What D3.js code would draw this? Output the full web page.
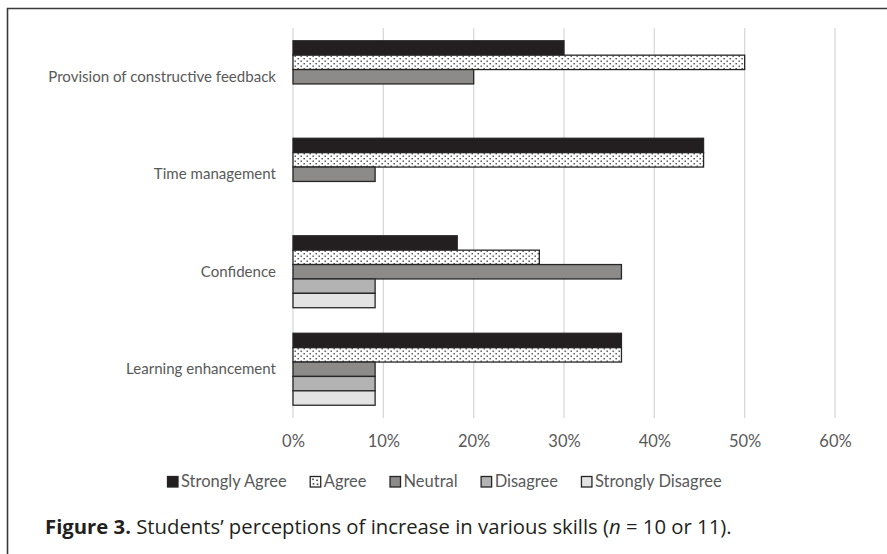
<!DOCTYPE html>
<html><head><meta charset="utf-8">
<script src="https://cdn.jsdelivr.net/npm/d3@7"></script>
<style>body{margin:0;background:#fff}svg{display:block}</style>
</head><body>
<script>
const categories = ["Provision of constructive feedback","Time management","Confidence","Learning enhancement"];
const seriesNames = ["Strongly Agree","Agree","Neutral","Disagree","Strongly Disagree"];
const stronglyAgree = [0.30, 0.4545, 0.1818, 0.3636];
const agree = [0.50, 0.4545, 0.2727, 0.3636];
const neutral = [0.20, 0.0909, 0.3636, 0.0909];
const disagree = [0, 0, 0.0909, 0.0909];
const stronglyDisagree = [0, 0, 0.0909, 0.0909];
const tickValues = [0,0.1,0.2,0.3,0.4,0.5,0.6];
const seriesValues = [stronglyAgree, agree, neutral, disagree, stronglyDisagree];
const fills = ["#231f20","url(#dots)","#8d8b8a","#b4b3b3","#e4e3e3"];

const W=887,H=554;
const FONT="Lato, 'Open Sans', sans-serif";
const svg=d3.select("body").append("svg").attr("width",W).attr("height",H);
const defs=svg.append("defs");
const pat=defs.append("pattern").attr("id","dots").attr("patternUnits","userSpaceOnUse").attr("width",6).attr("height",5);
pat.append("rect").attr("width",6).attr("height",5).attr("fill","#fff");
pat.append("rect").attr("x",0.5).attr("y",0.5).attr("width",1.4).attr("height",1.4).attr("fill","#444");
pat.append("rect").attr("x",3.5).attr("y",3).attr("width",1.4).attr("height",1.4).attr("fill","#444");

function measure(txt,size,weight){
  const t=svg.append("text").attr("font-family",FONT).attr("font-size",size).attr("font-weight",weight||"normal").text(txt);
  const w=t.node().getComputedTextLength(); t.remove(); return w;
}
const labelSize=14*228/measure(categories[0],14);
const legSum=d3.sum(seriesNames,s=>measure(s,14));
const legendSize=14*393/legSum;

// frame
svg.append("path").attr("d",`M7.5,${H} V8.5 H${W}`).attr("fill","none").attr("stroke","#3a3a3a").attr("stroke-width",1.6);

const x=d3.scaleLinear().domain([0,0.6]).range([293,835]);
const y0=d3.scaleBand().domain(categories).range([28,418]).paddingInner(0.262).paddingOuter(0.131);
const y1=d3.scaleBand().domain(seriesNames).range([0,y0.bandwidth()]);

// gridlines
svg.append("g").selectAll("line").data(tickValues).join("line")
 .attr("x1",d=>x(d)).attr("x2",d=>x(d)).attr("y1",28).attr("y2",418)
 .attr("stroke","#d9d9d9").attr("stroke-width",1.3);

// bars
const data=[];
categories.forEach((c,i)=>seriesNames.forEach((s,j)=>{ if(seriesValues[j][i]>0) data.push({c,s,v:seriesValues[j][i],j}); }));
svg.append("g").selectAll("rect").data(data).join("rect")
 .attr("x",x(0)).attr("y",d=>y0(d.c)+y1(d.s)).attr("width",d=>x(d.v)-x(0)).attr("height",y1.bandwidth())
 .attr("fill",d=>fills[d.j]).attr("stroke","#262626").attr("stroke-width",1.3);

// x axis
const xa=svg.append("g").attr("transform","translate(0,444)")
 .call(d3.axisBottom(x).tickValues(tickValues).tickFormat(d3.format(".0%")).tickSize(0));
xa.select(".domain").remove();
xa.selectAll("text").attr("font-family",FONT).attr("font-size",legendSize).attr("fill","#595959").attr("dy","0");

// y labels
const ya=svg.append("g").attr("transform","translate(276,0)")
 .call(d3.axisLeft(y0).tickSize(0).tickPadding(0));
ya.select(".domain").remove();
ya.selectAll("text").attr("font-family",FONT).attr("font-size",labelSize).attr("fill","#595959");

// legend
let lx=167;
seriesNames.forEach((s,i)=>{
  const g=svg.append("g").attr("transform",`translate(${lx},476)`);
  g.append("rect").attr("x",0.5).attr("y",0.5).attr("width",10.5).attr("height",10.5).attr("fill",i===1?"#fff":fills[i]).attr("stroke","#262626").attr("stroke-width",1.3);
  if(i===1){[[2.5,2.5],[6.5,3.5],[3,7],[7,7.5]].forEach(p=>g.append("rect").attr("x",p[0]).attr("y",p[1]).attr("width",1.6).attr("height",1.6).attr("fill","#444"));}
  g.append("text").attr("x",14).attr("y",11).text(s).attr("font-family",FONT).attr("font-size",legendSize).attr("fill","#595959");
  lx+=14+measure(s,legendSize)+23;
});

// caption
const cap=svg.append("text").attr("x",45).attr("y",534).attr("font-family","'Open Sans', sans-serif").attr("font-size",20.3).attr("fill","#231f20");
cap.append("tspan").attr("font-weight","bold").text("Figure 3.");
cap.append("tspan").text(" Students\u2019 perceptions of increase in various skills (");
cap.append("tspan").attr("font-style","italic").text("n");
cap.append("tspan").text(" = 10 or 11).");
</script>
</body></html>
